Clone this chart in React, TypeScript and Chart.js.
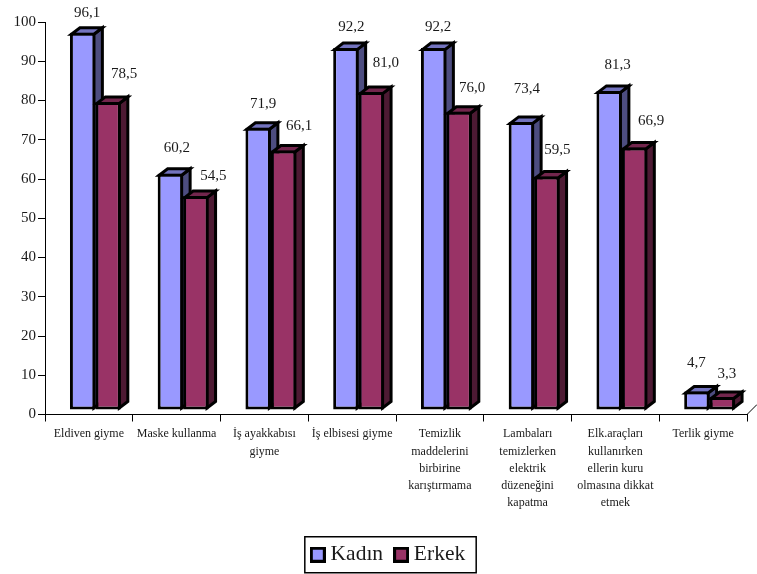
import React, { useEffect, useRef } from "react";
import { Chart, registerables } from "chart.js";

Chart.register(...registerables);

const categories = [
  ["Eldiven giyme"],
  ["Maske kullanma"],
  ["İş ayakkabısı", "giyme"],
  ["İş elbisesi giyme"],
  ["Temizlik", "maddelerini", "birbirine", "karıştırmama"],
  ["Lambaları", "temizlerken", "elektrik", "düzeneğini", "kapatma"],
  ["Elk.araçları", "kullanırken", "ellerin kuru", "olmasına dikkat", "etmek"],
  ["Terlik giyme"],
];
const kadin = [96.1, 60.2, 71.9, 92.2, 92.2, 73.4, 81.3, 4.7];
const erkek = [78.5, 54.5, 66.1, 81.0, 76.0, 59.5, 66.9, 3.3];

// Hand-placed value label nudges relative to each bar's top centre.
const kadinLabelNudge = [[4, -20], [6, -26], [4.5, -24], [5, -21], [4, -21], [5, -33], [8, -26], [-1, -28]];
const erkekLabelNudge = [[15.5, -28], [17, -20.5], [15, -24], [14, -29], [12.5, -24], [10, -26.5], [16, -26], [4, -23]];

const SERIF = "'Liberation Serif', 'Times New Roman', serif";
const INK = "#000000";
const TEXT = "#1a1a1a";
const frontColors = ["#9999FF", "#993366"];
const topColors = ["#7373BF", "#73264D"];
const sideColors = ["#4D4D80", "#4D1A33"];
const DEPTH_X = 8.5;
const DEPTH_Y = 6.5;
const PLANE_X = 6.5;
const PLANE_Y = -4.5;
const EDGE = 3;

function swatch(color: string) {
  const c = document.createElement("canvas");
  c.width = 16;
  c.height = 16;
  const g = c.getContext("2d")!;
  g.fillStyle = "#000";
  g.fillRect(0, 0, 16, 16);
  g.fillStyle = color;
  g.fillRect(3, 3, 10, 10);
  return c;
}

function poly(ctx: CanvasRenderingContext2D, pts: number[][], fill: string) {
  ctx.beginPath();
  pts.forEach((p, i) => (i ? ctx.lineTo(p[0], p[1]) : ctx.moveTo(p[0], p[1])));
  ctx.closePath();
  ctx.fillStyle = fill;
  ctx.fill();
  ctx.lineWidth = EDGE;
  ctx.lineJoin = "miter";
  ctx.strokeStyle = INK;
  ctx.stroke();
}

function drawFaces(ctx: CanvasRenderingContext2D, meta: any, idx: number) {
  meta.data.forEach((bar: any) => {
    const { x, y, base, width } = bar.getProps(["x", "y", "base", "width"], true);
    const l = x - width / 2 + EDGE / 2;
    const r = x + width / 2 - EDGE / 2;
    const t = y + EDGE / 2;
    const b = base - EDGE / 2;
    poly(ctx, [[r, t], [r + DEPTH_X, t - DEPTH_Y], [r + DEPTH_X, b - DEPTH_Y], [r, b]], sideColors[idx]);
    poly(ctx, [[l, t], [l + DEPTH_X, t - DEPTH_Y], [r + DEPTH_X, t - DEPTH_Y], [r, t]], topColors[idx]);
  });
}

const bars3d = {
  id: "bars3d",
  afterLayout(chart: any) {
    chart.legend.left += 34;
    chart.legend.top += 1.5;
  },
  beforeDatasetsDraw(chart: any) {
    const ctx = chart.ctx;
    ctx.save();
    ctx.translate(PLANE_X, PLANE_Y);
    // Kadın sits behind Erkek: paint it first, the library paints Erkek over it.
    const meta = chart.getDatasetMeta(0);
    drawFaces(ctx, meta, 0);
    meta.controller.draw();
  },
  beforeDatasetDraw(chart: any, args: any) {
    if (args.index === 0) return false;
    drawFaces(chart.ctx, args.meta, args.index);
    return true;
  },
  afterDatasetsDraw(chart: any) {
    const ctx = chart.ctx;
    ctx.restore();
    ctx.save();
    ctx.fillStyle = TEXT;
    ctx.font = `15px ${SERIF}`;
    ctx.textAlign = "center";
    ctx.textBaseline = "middle";
    const nudges = [kadinLabelNudge, erkekLabelNudge];
    chart.data.datasets.forEach((ds: any, i: number) => {
      chart.getDatasetMeta(i).data.forEach((bar: any, j: number) => {
        const { x, y } = bar.getProps(["x", "y"], true);
        const text = ds.data[j].toFixed(1).replace(".", ",");
        ctx.fillText(text, x + 7 + nudges[i][j][0], y - 4.5 + nudges[i][j][1]);
      });
    });
    ctx.restore();
  },
  afterDraw(chart: any) {
    const ctx = chart.ctx;
    const { right, bottom } = chart.chartArea;
    ctx.save();
    ctx.strokeStyle = INK;
    ctx.lineWidth = 1;
    ctx.beginPath();
    ctx.moveTo(right, bottom);
    ctx.lineTo(right + 10, bottom - 10);
    ctx.stroke();
    const hits = chart.legend.legendHitBoxes;
    const first = hits[0];
    const last = hits[hits.length - 1];
    ctx.lineWidth = 1.5;
    ctx.strokeRect(first.left - 11, first.top + first.height / 2 - 18, last.left + last.width + 11 - (first.left - 11), 36);
    ctx.restore();
  },
};

export default function App() {
  const ref = useRef<HTMLCanvasElement>(null);
  useEffect(() => {
    const chart = new Chart(ref.current!, {
      type: "bar",
      plugins: [bars3d],
      data: {
        labels: categories,
        datasets: [
          { label: "Kadın", data: kadin, backgroundColor: frontColors[0] },
          { label: "Erkek", data: erkek, backgroundColor: frontColors[1] },
        ],
      },
      options: {
        animation: false,
        responsive: false,
        devicePixelRatio: 1,
        clip: false as any,
        layout: { autoPadding: false, padding: { left: 0, right: 10, top: 22, bottom: 0 } },
        datasets: {
          bar: {
            categoryPercentage: 0.58,
            barPercentage: 1,
            borderColor: INK,
            borderWidth: EDGE,
            borderSkipped: false,
          },
        },
        plugins: {
          title: { display: false },
          tooltip: { enabled: false },
          legend: {
            position: "bottom",
            labels: {
              font: { family: SERIF, size: 21.5 },
              color: TEXT,
              padding: 16,
              usePointStyle: true,
              boxWidth: 4,
              boxHeight: 16,
              generateLabels: (chart: any) =>
                chart.data.datasets.map((ds: any, i: number) => ({
                  text: ds.label,
                  fontColor: TEXT,
                  pointStyle: swatch(frontColors[i]),
                  datasetIndex: i,
                  lineWidth: 0,
                })),
            },
          },
        },
        scales: {
          x: {
            afterFit: (s: any) => { s.height = 112; },
            border: { color: INK, width: 1 },
            grid: { offset: true, drawOnChartArea: false, drawTicks: true, tickLength: 7, color: INK },
            ticks: {
              autoSkip: false,
              maxRotation: 0,
              minRotation: 0,
              padding: 4,
              color: TEXT,
              font: { family: SERIF, size: 12, lineHeight: 1.44 },
            },
          },
          y: {
            min: 0,
            max: 100,
            afterFit: (s: any) => { s.width = 45; },
            border: { color: INK, width: 1 },
            grid: { drawOnChartArea: false, drawTicks: true, tickLength: 7, color: INK },
            ticks: { stepSize: 10, padding: 2, color: TEXT, font: { family: SERIF, size: 15 } },
          },
        },
      },
    } as any);
    return () => chart.destroy();
  }, []);
  return (
    <div style={{ position: "absolute", left: 0, top: 0, width: 757, height: 574, background: "#fff" }}>
      <canvas ref={ref} width={757} height={574} style={{ display: "block" }} />
    </div>
  );
}
